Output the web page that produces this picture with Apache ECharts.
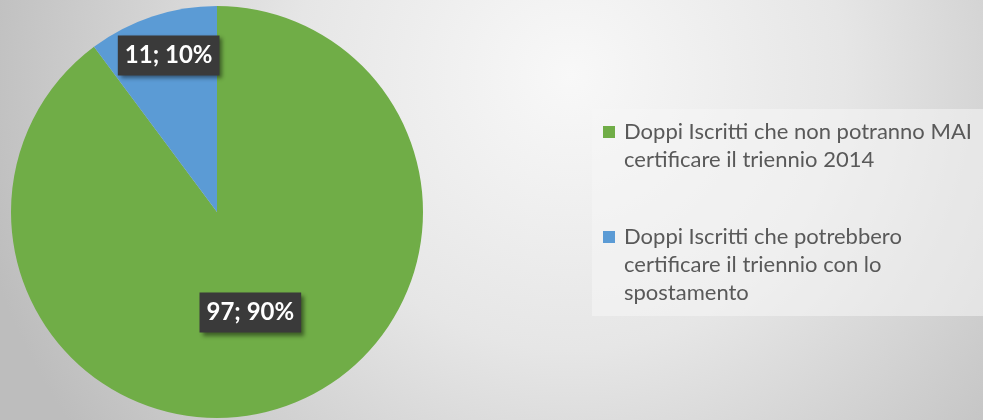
<!DOCTYPE html>
<html>
<head>
<meta charset="utf-8">
<script src="https://cdn.jsdelivr.net/npm/echarts@6/dist/echarts.min.js"></script>
<style>
html,body{margin:0;padding:0;}
#chart{width:983px;height:420px;}
</style>
</head>
<body>
<div id="chart"></div>
<script>
// Data
var categories = [
  'Doppi Iscritti che non potranno MAI certificare il triennio 2014',
  'Doppi Iscritti che potrebbero certificare il triennio con lo spostamento'
];
var legendText = [
  'Doppi Iscritti che non potranno MAI\ncertificare il triennio 2014',
  'Doppi Iscritti che potrebbero\ncertificare il triennio con lo\nspostamento'
];
var values = [97, 11];
var colors = ['#70ad47', '#5b9bd5'];

var LH = 28;
var chart = echarts.init(document.getElementById('chart'));

// pad each legend text with blank lines on top so the icon lines up with the first line
function legendFormatter(name) {
  var txt = legendText[categories.indexOf(name)];
  var n = txt.split('\n').length;
  var pad = '';
  for (var k = 1; k < n; k++) pad += ' \n';
  return pad + txt;
}

var labelOffsets = [[0, 0], [-15, -56]];

var option = {
  backgroundColor: {
    type: 'radial', x: 0.58, y: 0.18, r: 1.45,
    colorStops: [
      { offset: 0, color: '#f8f8f8' },
      { offset: 0.45, color: '#e6e6e6' },
      { offset: 1, color: '#bdbdbd' }
    ]
  },
  graphic: [{
    type: 'rect', left: 592, top: 109, z: -1,
    shape: { width: 391, height: 207 },
    style: { fill: 'rgba(245,245,245,0.55)' }
  }],
  legend: {
    orient: 'vertical',
    left: 603,
    top: 132 - 1.5 * LH,
    padding: 0,
    itemGap: -7,
    itemWidth: 12,
    itemHeight: 12,
    icon: 'rect',
    selectedMode: false,
    data: categories,
    formatter: legendFormatter,
    textStyle: { fontFamily: 'Lato', fontSize: 22, lineHeight: LH, color: '#595959', padding: [0, 0, 0, 4] }
  },
  series: [{
    type: 'pie',
    center: [217, 212],
    radius: 206,
    startAngle: 90,
    clockwise: true,
    silent: true,
    animation: false,
    percentPrecision: 0,
    labelLine: { show: false },
    itemStyle: { borderWidth: 0 },
    label: {
      show: true,
      position: 'inside',
      formatter: '{c}; {d}%',
      fontFamily: 'Lato',
      fontWeight: 'bold',
      fontSize: 24,
      lineHeight: 24,
      color: '#ffffff',
      backgroundColor: '#3a3a3a',
      padding: [8, 7],
      shadowColor: 'rgba(0,0,0,0.45)',
      shadowBlur: 4,
      shadowOffsetX: 3,
      shadowOffsetY: 3
    },
    data: categories.map(function (name, i) {
      return {
        name: name,
        value: values[i],
        itemStyle: { color: colors[i] },
        label: { offset: labelOffsets[i] }
      };
    })
  }]
};
chart.setOption(option);
</script>
</body>
</html>
